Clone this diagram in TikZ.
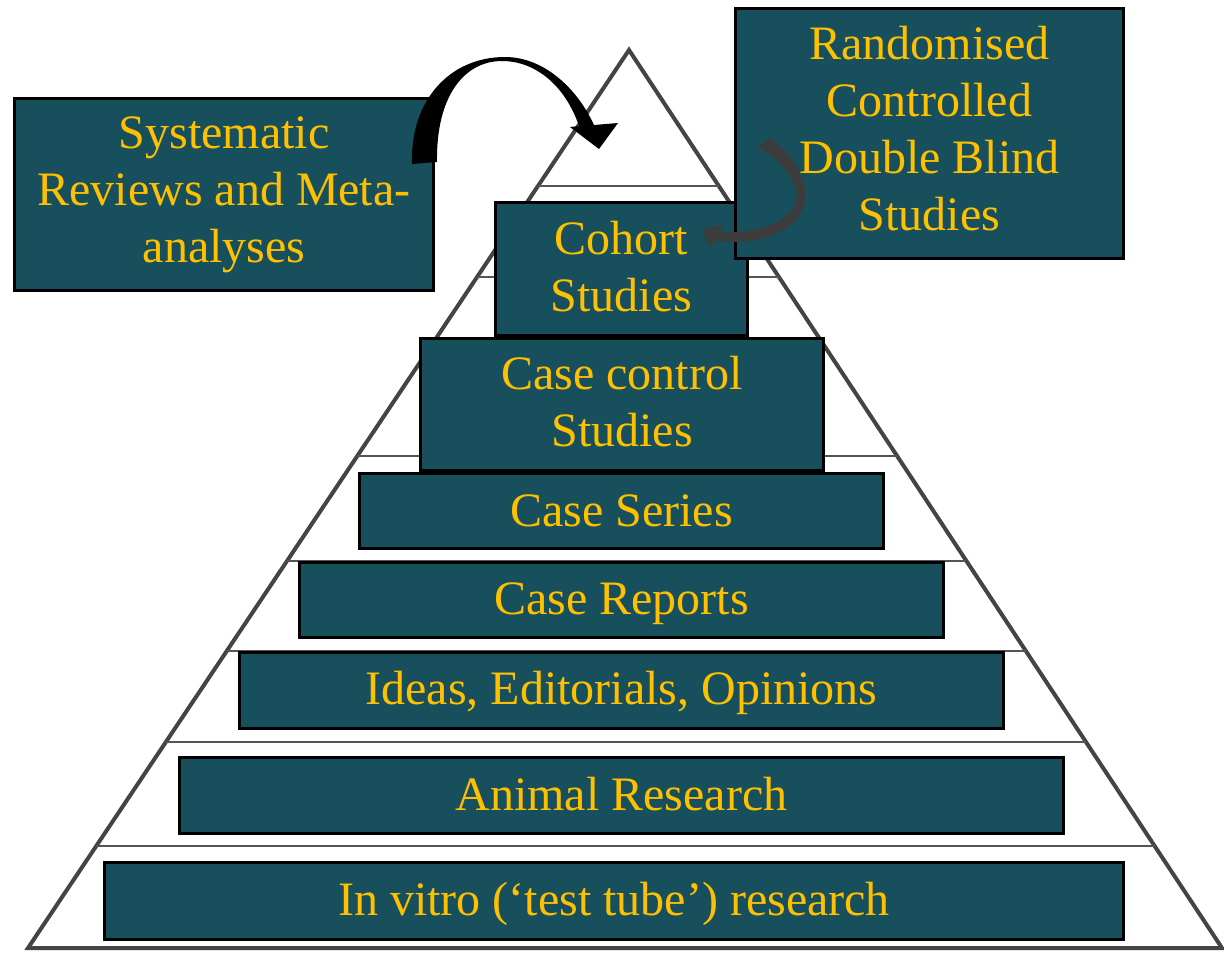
\documentclass[tikz,border=0pt]{standalone}
\usepackage{fontspec}
\setmainfont{Liberation Serif}
\usetikzlibrary{calc}
\definecolor{boxteal}{HTML}{17505C}
\definecolor{txtyellow}{HTML}{FFC000}
\definecolor{pyrgray}{HTML}{444444}
\definecolor{tiergray}{HTML}{555555}
\definecolor{arrgray}{HTML}{3C3C3C}
\newcommand\mystrut{\rule[-8.5pt]{0pt}{47pt}}
\newcommand\lastlinestrut[1]{\rule[-#1pt]{0pt}{47pt}}
\begin{document}
\begin{tikzpicture}[x=1pt,y=-1pt,
  box/.style={draw=black, line width=3.5pt, fill=boxteal, text=txtyellow,
    align=center, inner sep=0pt, font=\fontsize{48}{57}\selectfont},
  pyr/.style={draw=pyrgray, line width=4pt, line join=miter},
  tier/.style={draw=tiergray, line width=2pt},
  bigarrow/.style={fill=black, draw=none},
  smallarrow/.style={fill=arrgray, draw=none}]
\useasboundingbox (0,0) rectangle (1224,953);
\fill[white] (0,0) rectangle (1224,953);
% pyramid
\coordinate (apex) at (629,50);
\coordinate (bl) at (28,948);
\coordinate (br) at (1222,948);
\draw[pyr] (apex) -- (bl) -- (br) -- cycle;
\foreach \t in {0.1514,0.2528,0.4521,0.5690,0.6693,0.7706,0.8864}
  \draw[tier] ($(apex)!\t!(bl)$) -- ($(apex)!\t!(br)$);
% boxes
\node[box, minimum width=419pt, minimum height=192pt] (sr) at (224,194.5) {\mystrut Systematic\\\mystrut Reviews and Meta-\\\lastlinestrut{16}analyses};
\node[box, minimum width=252pt, minimum height=133pt] (cohort) at (621.5,269) {\mystrut Cohort\\\lastlinestrut{11}Studies};
\node[box, minimum width=403pt, minimum height=132pt] (cc) at (622,404.5) {\mystrut Case control\\\lastlinestrut{12.5}Studies};
\node[box, minimum width=524pt, minimum height=75pt] (cs) at (621.5,511) {\mystrut Case Series};
\node[box, minimum width=644pt, minimum height=75pt] (cr) at (621.5,600) {\mystrut Case Reports};
\node[box, minimum width=764pt, minimum height=76pt] (ideas) at (621.5,690.5) {\mystrut Ideas, Editorials, Opinions};
\node[box, minimum width=884pt, minimum height=76pt] (animal) at (621.5,795.5) {\mystrut Animal Research};
\node[box, minimum width=1019pt, minimum height=77pt] (vitro) at (614,901) {\mystrut In vitro (‘test tube’) research};
\node[box, minimum width=388pt, minimum height=250pt] (rct) at (929.5,133.5) {\mystrut Randomised\\\mystrut Controlled\\\mystrut Double Blind\\\lastlinestrut{16}Studies};
% curved block arrows
\fill[bigarrow] (412,164) .. controls (410,100) and (450,57) .. (505,57)
  .. controls (545,57) and (578,90) .. (594,125)
  -- (618,123) -- (599,149) -- (570,127) -- (579,126)
  .. controls (565,85) and (535,61) .. (502,61)
  .. controls (465,61) and (436,95) .. (437,162) -- cycle;
\fill[smallarrow] (770,138) .. controls (798,158) and (812,190) .. (802,210)
  .. controls (790,235) and (755,245) .. (714,241)
  -- (710,248) -- (702,230) -- (723,224) -- (719,232)
  .. controls (752,234) and (785,225) .. (795,205)
  .. controls (802,188) and (785,162) .. (757,147) -- cycle;
\end{tikzpicture}
\end{document}
